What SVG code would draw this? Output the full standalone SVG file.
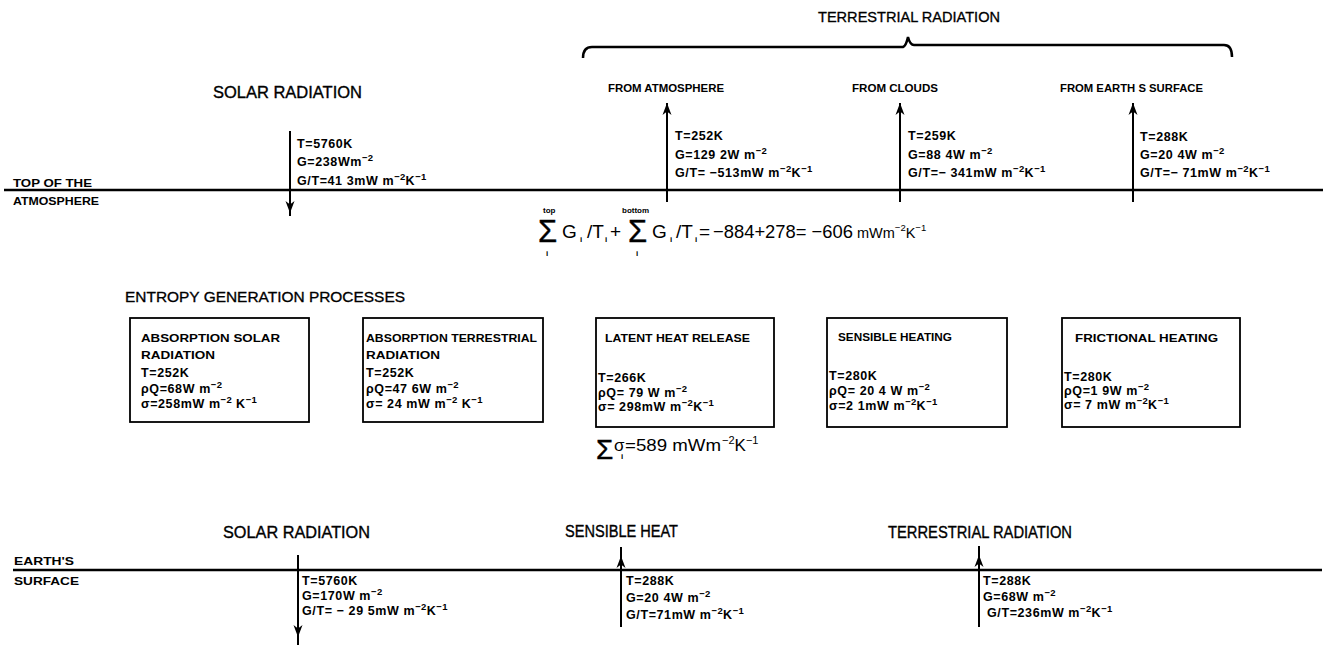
<svg xmlns="http://www.w3.org/2000/svg" xmlns:xlink="http://www.w3.org/1999/xlink" width="1327" height="645" viewBox="0 0 1327 645">
<style>
text{font-family:"Liberation Sans",Arial,sans-serif;fill:#000}
.h{font-size:16px;stroke:#000;stroke-width:0.35}
.hs{font-size:14px;stroke:#000;stroke-width:0.3}
.lb{font-size:11.5px;font-weight:bold}
.v{font-size:12.5px;font-weight:bold;letter-spacing:0.6px}
.sup{font-size:9.5px;letter-spacing:0.3px}
.f{font-size:19px}
.sig{font-size:31px;stroke:#000;stroke-width:0.4}
.tiny{font-size:8px;font-weight:bold}
.lvl{stroke:#000;stroke-width:2.5;fill:none}
.sh{stroke:#000;stroke-width:2;fill:none}
.box{stroke:#000;stroke-width:1.8;fill:#fff}
</style>
<defs>
<path id="ah" d="M0,0 L-4.5,-12 L0,-8.5 L4.5,-12 Z" fill="#000"/>
</defs>
<rect width="1327" height="645" fill="#fff"/>

<g id="levels">
<line class="lvl" x1="4" y1="190" x2="1323" y2="190"/>
<line class="lvl" x1="13" y1="570" x2="1322" y2="570"/>
<path class="lvl" d="M583,58 Q583,47 592,47 L903,47 Q906,46 908,37 Q910,45 914,45 L1224,45 Q1232,45 1232,57"/>
</g>

<g id="connectors">
<line class="sh" x1="290" y1="131" x2="290" y2="216"/>
<use xlink:href="#ah" transform="translate(290,213)"/>
<line class="sh" x1="667" y1="103" x2="667" y2="202"/>
<use xlink:href="#ah" transform="translate(667,103) rotate(180)"/>
<line class="sh" x1="900" y1="103" x2="900" y2="202"/>
<use xlink:href="#ah" transform="translate(900,103) rotate(180)"/>
<line class="sh" x1="1133" y1="103" x2="1133" y2="202"/>
<use xlink:href="#ah" transform="translate(1133,103) rotate(180)"/>
<line class="sh" x1="298" y1="555" x2="298" y2="645"/>
<use xlink:href="#ah" transform="translate(298,637)"/>
<line class="sh" x1="621" y1="547" x2="621" y2="627"/>
<use xlink:href="#ah" transform="translate(621,556) rotate(180)"/>
<line class="sh" x1="979" y1="546" x2="979" y2="627"/>
<use xlink:href="#ah" transform="translate(979,555) rotate(180)"/>
</g>

<g id="top-labels">
<text class="hs" x="818" y="22" textLength="182" lengthAdjust="spacingAndGlyphs">TERRESTRIAL RADIATION</text>
<text class="h" x="213" y="98" textLength="149" lengthAdjust="spacingAndGlyphs">SOLAR RADIATION</text>
<text class="lb" x="13" y="187" textLength="79" lengthAdjust="spacingAndGlyphs">TOP OF THE</text>
<text class="lb" x="13" y="205" textLength="86" lengthAdjust="spacingAndGlyphs">ATMOSPHERE</text>
</g>

<g id="top-solar">
<text class="v" x="297" y="148">T=5760K</text>
<text class="v" x="297" y="166">G=238Wm<tspan class="sup" dy="-5">−2</tspan></text>
<text class="v" x="297" y="185">G/T=41 3mW m<tspan class="sup" dy="-5">−2</tspan><tspan dy="5">K</tspan><tspan class="sup" dy="-5">−1</tspan></text>
</g>

<g id="from-atmosphere">
<text class="lb" x="608" y="92" textLength="116" lengthAdjust="spacingAndGlyphs">FROM ATMOSPHERE</text>
<text class="v" x="675" y="140">T=252K</text>
<text class="v" x="675" y="159">G=129 2W m<tspan class="sup" dy="-5">−2</tspan></text>
<text class="v" x="675" y="177">G/T= −513mW m<tspan class="sup" dy="-5">−2</tspan><tspan dy="5">K</tspan><tspan class="sup" dy="-5">−1</tspan></text>
</g>

<g id="from-clouds">
<text class="lb" x="852" y="92" textLength="86" lengthAdjust="spacingAndGlyphs">FROM CLOUDS</text>
<text class="v" x="908" y="140">T=259K</text>
<text class="v" x="908" y="159">G=88 4W m<tspan class="sup" dy="-5">−2</tspan></text>
<text class="v" x="908" y="177">G/T=− 341mW m<tspan class="sup" dy="-5">−2</tspan><tspan dy="5">K</tspan><tspan class="sup" dy="-5">−1</tspan></text>
</g>

<g id="from-earth-surface">
<text class="lb" x="1060" y="92" textLength="143" lengthAdjust="spacingAndGlyphs">FROM EARTH S SURFACE</text>
<text class="v" x="1140" y="141">T=288K</text>
<text class="v" x="1140" y="159">G=20 4W m<tspan class="sup" dy="-5">−2</tspan></text>
<text class="v" x="1140" y="177">G/T=− 71mW m<tspan class="sup" dy="-5">−2</tspan><tspan dy="5">K</tspan><tspan class="sup" dy="-5">−1</tspan></text>
</g>

<g id="top-sum">
<text class="sig" x="538" y="242">Σ</text>
<text class="tiny" x="543" y="213">top</text>
<text class="tiny" x="546" y="256">i</text>
<text class="f" x="562" y="238">G</text>
<text class="tiny" x="580" y="242">i</text>
<text class="f" x="587" y="238">/T</text>
<text class="tiny" x="605" y="242">i</text>
<text class="f" x="610" y="238">+</text>
<text class="tiny" x="622" y="213">bottom</text>
<text class="sig" x="628" y="242">Σ</text>
<text class="tiny" x="636" y="256">i</text>
<text class="f" x="652" y="238">G</text>
<text class="tiny" x="670" y="242">i</text>
<text class="f" x="676" y="238">/T</text>
<text class="tiny" x="695" y="242">i</text>
<text class="f" x="699" y="238">=</text>
<text class="f" x="713" y="238" textLength="140" lengthAdjust="spacingAndGlyphs">−884+278= −606</text>
<text x="857" y="238" style="font-size:14.5px">mWm<tspan style="font-size:9.5px" dy="-7">−2</tspan><tspan dy="7">K</tspan><tspan style="font-size:9.5px" dy="-7">−1</tspan></text>
</g>

<g id="entropy-title">
<text class="hs" x="125" y="302" textLength="280" lengthAdjust="spacingAndGlyphs">ENTROPY GENERATION PROCESSES</text>
</g>

<g id="box-absorption-solar">
<rect class="box" x="130" y="318" width="179" height="104"/>
<text class="lb" x="141" y="342" textLength="139" lengthAdjust="spacingAndGlyphs">ABSORPTION  SOLAR</text>
<text class="lb" x="141" y="359" textLength="74" lengthAdjust="spacingAndGlyphs">RADIATION</text>
<text class="v" x="141" y="377">T=252K</text>
<text class="v" x="141" y="393">ρQ=68W m<tspan class="sup" dy="-5">−2</tspan></text>
<text class="v" x="141" y="408">σ=258mW m<tspan class="sup" dy="-5">−2</tspan><tspan dy="5"> K</tspan><tspan class="sup" dy="-5">−1</tspan></text>
</g>

<g id="box-absorption-terrestrial">
<rect class="box" x="363" y="318" width="180" height="104"/>
<text class="lb" x="366" y="342" textLength="171" lengthAdjust="spacingAndGlyphs">ABSORPTION TERRESTRIAL</text>
<text class="lb" x="366" y="359" textLength="74" lengthAdjust="spacingAndGlyphs">RADIATION</text>
<text class="v" x="366" y="377">T=252K</text>
<text class="v" x="366" y="393">ρQ=47 6W m<tspan class="sup" dy="-5">−2</tspan></text>
<text class="v" x="366" y="408">σ= 24 mW m<tspan class="sup" dy="-5">−2</tspan><tspan dy="5"> K</tspan><tspan class="sup" dy="-5">−1</tspan></text>
</g>

<g id="box-latent-heat">
<rect class="box" x="596" y="318" width="178" height="109"/>
<text class="lb" x="605" y="342" textLength="145" lengthAdjust="spacingAndGlyphs">LATENT HEAT RELEASE</text>
<text class="v" x="598" y="382">T=266K</text>
<text class="v" x="598" y="397">ρQ= 79 W m<tspan class="sup" dy="-5">−2</tspan></text>
<text class="v" x="598" y="411">σ= 298mW m<tspan class="sup" dy="-5">−2</tspan><tspan dy="5">K</tspan><tspan class="sup" dy="-5">−1</tspan></text>
</g>

<g id="box-sensible-heating">
<rect class="box" x="827" y="318" width="180" height="109"/>
<text class="lb" x="838" y="341" textLength="114" lengthAdjust="spacingAndGlyphs">SENSIBLE HEATING</text>
<text class="v" x="829" y="380">T=280K</text>
<text class="v" x="829" y="395">ρQ= 20 4 W m<tspan class="sup" dy="-5">−2</tspan></text>
<text class="v" x="829" y="410">σ=2 1mW m<tspan class="sup" dy="-5">−2</tspan><tspan dy="5">K</tspan><tspan class="sup" dy="-5">−1</tspan></text>
</g>

<g id="box-frictional-heating">
<rect class="box" x="1062" y="318" width="178" height="109"/>
<text class="lb" x="1075" y="342" textLength="143" lengthAdjust="spacingAndGlyphs">FRICTIONAL  HEATING</text>
<text class="v" x="1064" y="381">T=280K</text>
<text class="v" x="1064" y="395">ρQ=1 9W m<tspan class="sup" dy="-5">−2</tspan></text>
<text class="v" x="1064" y="409">σ= 7 mW m<tspan class="sup" dy="-5">−2</tspan><tspan dy="5">K</tspan><tspan class="sup" dy="-5">−1</tspan></text>
</g>

<g id="sigma-sum">
<text class="sig" x="596" y="459" style="font-size:28px">Σ</text>
<text style="font-size:17px" x="614" y="451">σ</text>
<text class="tiny" x="621" y="459">i</text>
<text x="625" y="451" style="font-size:17px" textLength="96" lengthAdjust="spacingAndGlyphs">=589 mWm</text>
<text x="722" y="451" style="font-size:17px"><tspan style="font-size:11px" dy="-7">−2</tspan><tspan dy="7">K</tspan><tspan style="font-size:11px" dy="-7">−1</tspan></text>
</g>

<g id="surface-labels">
<text class="lb" x="14" y="565" textLength="60" lengthAdjust="spacingAndGlyphs">EARTH'S</text>
<text class="lb" x="14" y="585" textLength="65" lengthAdjust="spacingAndGlyphs">SURFACE</text>
</g>

<g id="surface-solar">
<text class="h" x="223" y="538" textLength="147" lengthAdjust="spacingAndGlyphs">SOLAR RADIATION</text>
<text class="v" x="302" y="585">T=5760K</text>
<text class="v" x="302" y="600">G=170W m<tspan class="sup" dy="-5">−2</tspan></text>
<text class="v" x="302" y="615">G/T= − 29 5mW m<tspan class="sup" dy="-5">−2</tspan><tspan dy="5">K</tspan><tspan class="sup" dy="-5">−1</tspan></text>
</g>

<g id="surface-sensible">
<text class="h" x="565" y="537" textLength="113" lengthAdjust="spacingAndGlyphs">SENSIBLE HEAT</text>
<text class="v" x="626" y="585">T=288K</text>
<text class="v" x="626" y="602">G=20 4W m<tspan class="sup" dy="-5">−2</tspan></text>
<text class="v" x="626" y="619">G/T=71mW m<tspan class="sup" dy="-5">−2</tspan><tspan dy="5">K</tspan><tspan class="sup" dy="-5">−1</tspan></text>
</g>

<g id="surface-terrestrial">
<text class="h" x="888" y="538" textLength="184" lengthAdjust="spacingAndGlyphs">TERRESTRIAL RADIATION</text>
<text class="v" x="983" y="585">T=288K</text>
<text class="v" x="983" y="601">G=68W m<tspan class="sup" dy="-5">−2</tspan></text>
<text class="v" x="987" y="617">G/T=236mW m<tspan class="sup" dy="-5">−2</tspan><tspan dy="5">K</tspan><tspan class="sup" dy="-5">−1</tspan></text>
</g>
</svg>
